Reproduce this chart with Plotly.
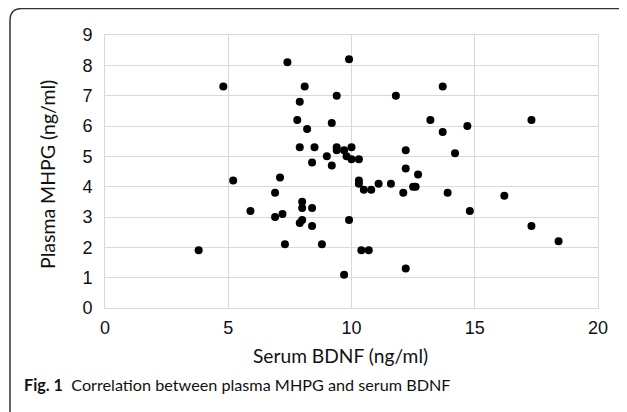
import plotly.graph_objects as go

# Data
serum_bdnf = [3.8, 4.8, 5.2, 5.9, 6.9, 6.9, 7.1, 7.2, 7.3, 7.4, 7.8, 7.9, 7.9, 7.9, 8.0, 8.0, 8.0,
              8.1, 8.2, 8.4, 8.4, 8.4, 8.5, 8.8, 9.0, 9.2, 9.2, 9.4, 9.4, 9.4, 9.7, 9.7, 9.8,
              9.9, 9.9, 10.0, 10.0, 10.3, 10.3, 10.3, 10.4, 10.5, 10.7, 10.8, 11.1, 11.6, 11.8,
              12.1, 12.2, 12.2, 12.2, 12.5, 12.6, 12.7, 13.2, 13.7, 13.7, 13.9, 14.2, 14.7, 14.8,
              16.2, 17.3, 17.3, 18.4]
plasma_mhpg = [1.9, 7.3, 4.2, 3.2, 3.8, 3.0, 4.3, 3.1, 2.1, 8.1, 6.2, 6.8, 5.3, 2.8, 3.5, 3.3, 2.9,
               7.3, 5.9, 4.8, 3.3, 2.7, 5.3, 2.1, 5.0, 6.1, 4.7, 7.0, 5.3, 5.2, 5.2, 1.1, 5.0,
               8.2, 2.9, 5.3, 4.9, 4.9, 4.2, 4.1, 1.9, 3.9, 1.9, 3.9, 4.1, 4.1, 7.0,
               3.8, 5.2, 4.6, 1.3, 4.0, 4.0, 4.4, 6.2, 7.3, 5.8, 3.8, 5.1, 6.0, 3.2,
               3.7, 6.2, 2.7, 2.2]
x_ticks = [0, 5, 10, 15, 20]
y_ticks = [0, 1, 2, 3, 4, 5, 6, 7, 8, 9]
x_title = "Serum BDNF (ng/ml)"
y_title = "Plasma MHPG (ng/ml)"
caption_bold = "Fig. 1"
caption_text = "Correlation between plasma MHPG and serum BDNF"

# the page body adds an 8px offset, so the figure is 8px smaller
OFF = 8
W, H = 627 - OFF, 412 - OFF
L, R, T, B = 105 - OFF, 29, 35 - OFF, 104
pw, ph = W - L - R, H - T - B


def px_x(p):
    return (p - OFF - L) / pw


def px_y(p):
    return (H - B - (p - OFF)) / ph


fig = go.Figure(go.Scatter(
    x=serum_bdnf, y=plasma_mhpg, mode="markers",
    marker=dict(color="black", size=8),
))

grid = "#d9d9d9"
fig.update_xaxes(
    range=[0, 20], tickvals=x_ticks, showgrid=True, gridcolor=grid, gridwidth=1,
    showline=True, linecolor=grid, mirror=True, zeroline=False, automargin=False,
    tickfont=dict(family="Liberation Sans, Arial", size=18, color="#111"),
    ticklabelstandoff=3,
)
fig.update_yaxes(
    range=[0, 9], tickvals=y_ticks, showgrid=True, gridcolor=grid, gridwidth=1,
    showline=True, linecolor=grid, mirror=True, zeroline=False, automargin=False,
    tickfont=dict(family="Liberation Sans, Arial", size=18, color="#111"),
    ticklabelstandoff=8,
)

# axis titles
fig.add_annotation(text=x_title, xref="paper", yref="paper",
                   x=px_x(340.5), y=px_y(355), xanchor="center", yanchor="middle",
                   showarrow=False, font=dict(family="Lato", size=19.2, color="#111"))
fig.add_annotation(text=y_title, xref="paper", yref="paper", textangle=-90,
                   x=px_x(47), y=px_y(175), xanchor="center", yanchor="middle",
                   showarrow=False, font=dict(family="Lato", size=19.5, color="#111"))

# rounded frame (left and top edges)
x0, y0 = px_x(10), px_y(8.5)
xb, yb = px_x(10), px_y(412)
xe = px_x(627)
rx, ry = 12 / pw, 12 / ph
path = (f"M {xb},{yb} L {x0},{y0 - ry} Q {x0},{y0} {x0 + rx},{y0} L {xe},{y0}")
fig.add_shape(type="path", path=path, xref="paper", yref="paper",
              line=dict(color="#333", width=1.5))

fig.add_annotation(
    text=f"<b>{caption_bold}</b>&nbsp;&nbsp;{caption_text}",
    xref="paper", yref="paper", x=px_x(22), y=px_y(385),
    xanchor="left", yanchor="middle", showarrow=False,
    font=dict(family="Lato", size=16.2, color="#111"),
)

fig.update_layout(
    width=W, height=H, margin=dict(l=L, r=R, t=T, b=B, autoexpand=False),
    paper_bgcolor="white", plot_bgcolor="white", showlegend=False,
)

fig.write_html("out.html")
